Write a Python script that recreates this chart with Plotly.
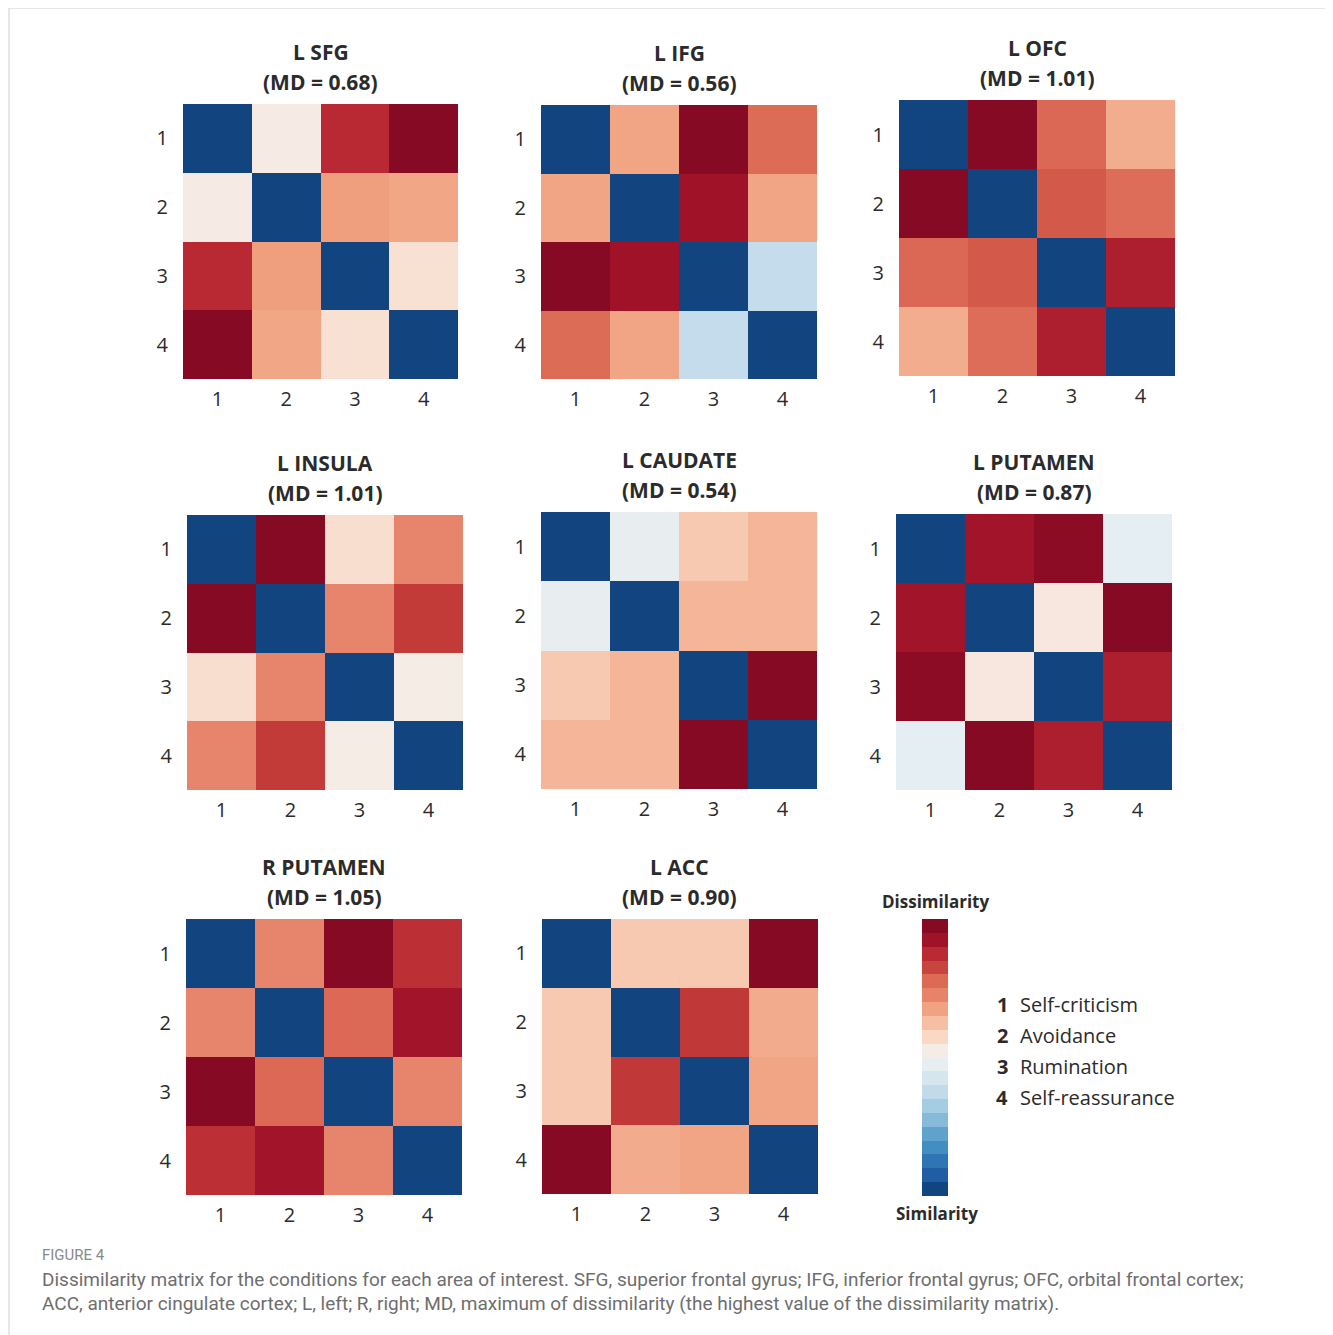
import plotly.graph_objects as go

# page offset of the plot inside the browser (default body margin)
OFF = 8
W, H = 1333 - OFF, 1335 - OFF

# ---------------- data ----------------
conditions = [1, 2, 3, 4]
condition_labels = ["1", "2", "3", "4"]
condition_names = ["Self-criticism", "Avoidance", "Rumination", "Self-reassurance"]

regions = ["L SFG", "L IFG", "L OFC", "L INSULA", "L CAUDATE", "L PUTAMEN", "R PUTAMEN", "L ACC"]
max_dissimilarity = [0.68, 0.56, 1.01, 1.01, 0.54, 0.87, 1.05, 0.90]

l_sfg = [[0.00, 0.36, 0.61, 0.68],
         [0.36, 0.00, 0.47, 0.46],
         [0.61, 0.47, 0.00, 0.38],
         [0.68, 0.46, 0.38, 0.00]]
l_ifg = [[0.00, 0.38, 0.56, 0.44],
         [0.38, 0.00, 0.53, 0.38],
         [0.56, 0.53, 0.00, 0.21],
         [0.44, 0.38, 0.21, 0.00]]
l_ofc = [[0.00, 1.01, 0.80, 0.67],
         [1.01, 0.00, 0.82, 0.79],
         [0.80, 0.82, 0.00, 0.93],
         [0.67, 0.79, 0.93, 0.00]]
l_insula = [[0.00, 1.01, 0.57, 0.74],
            [1.01, 0.00, 0.74, 0.87],
            [0.57, 0.74, 0.00, 0.53],
            [0.74, 0.87, 0.53, 0.00]]
l_caudate = [[0.00, 0.26, 0.33, 0.35],
             [0.26, 0.00, 0.35, 0.35],
             [0.33, 0.35, 0.00, 0.54],
             [0.35, 0.35, 0.54, 0.00]]
l_putamen = [[0.00, 0.82, 0.86, 0.41],
             [0.82, 0.00, 0.47, 0.87],
             [0.86, 0.47, 0.00, 0.80],
             [0.41, 0.87, 0.80, 0.00]]
r_putamen = [[0.00, 0.77, 1.05, 0.93],
             [0.77, 0.00, 0.83, 0.99],
             [1.05, 0.83, 0.00, 0.77],
             [0.93, 0.99, 0.77, 0.00]]
l_acc = [[0.00, 0.55, 0.55, 0.90],
         [0.55, 0.00, 0.78, 0.60],
         [0.55, 0.78, 0.00, 0.61],
         [0.90, 0.60, 0.61, 0.00]]

matrices = [l_sfg, l_ifg, l_ofc, l_insula, l_caudate, l_putamen, r_putamen, l_acc]

colorbar_levels = list(range(20))

# ---------------- style ----------------
palette = ["#124580", "#1f5ea4", "#3075b3", "#428ec0", "#5fa2cc", "#86bad8", "#a4cce3",
           "#c2dbea", "#d6e6ef", "#e6eef2", "#f6ece6", "#f9d9c6", "#f6bea2", "#f0a281",
           "#e6836a", "#dc6a55", "#c8453d", "#b92a33", "#a01228", "#870a24"]
colorscale = [[i / (len(palette) - 1), c] for i, c in enumerate(palette)]

# pixel boxes (x0, x1, y0, y1) of each matrix, in page pixels
boxes = [(183, 458, 104, 379), (541, 817, 105, 379), (899, 1175, 100, 376),
         (187, 463, 515, 790), (541, 817, 512, 789), (896, 1172, 514, 790),
         (186, 462, 919, 1195), (542, 818, 919, 1194)]
cbar_box = (922, 948, 919, 1196)

FONT = "Open Sans"
TXT = "#2b2b2b"


def px_x(x):
    return (x - OFF) / W


def px_y(y):
    return 1 - (y - OFF) / H


fig = go.Figure()
layout_axes = {}
annotations = []

for i, (name, md, mat, box) in enumerate(zip(regions, max_dissimilarity, matrices, boxes)):
    k = i + 1
    xa = "x" if k == 1 else f"x{k}"
    ya = "y" if k == 1 else f"y{k}"
    fig.add_trace(go.Heatmap(
        z=mat, x=conditions, y=conditions, xaxis=xa, yaxis=ya,
        zmin=0, zmax=md, colorscale=colorscale, showscale=False,
        hovertemplate="%{y} vs %{x}: %{z}<extra>" + name + "</extra>"))
    x0, x1, y0, y1 = box
    axis_font = dict(family=FONT, size=20, color=TXT)
    layout_axes["xaxis" if k == 1 else f"xaxis{k}"] = dict(
        domain=[px_x(x0), px_x(x1)], range=[0.5, 4.5], tickvals=conditions,
        ticktext=condition_labels, showgrid=False, zeroline=False, showline=False,
        ticks="", tickfont=axis_font, ticklabelstandoff=6, anchor=ya, fixedrange=True)
    layout_axes["yaxis" if k == 1 else f"yaxis{k}"] = dict(
        domain=[px_y(y1), px_y(y0)], range=[4.5, 0.5], tickvals=conditions,
        ticktext=condition_labels, showgrid=False, zeroline=False, showline=False,
        ticks="", tickfont=axis_font, ticklabelstandoff=14, anchor=xa, fixedrange=True)
    cx = (x0 + x1) / 2
    annotations.append(dict(x=px_x(cx), y=px_y(y0 - 52), xref="paper", yref="paper",
                            text=f"<b>{name}</b>", showarrow=False, xanchor="center", yanchor="middle",
                            font=dict(family=FONT, size=21, color=TXT)))
    annotations.append(dict(x=px_x(cx), y=px_y(y0 - 22), xref="paper", yref="paper",
                            text=f"<b>(MD = {md:.2f})</b>", showarrow=False, xanchor="center",
                            yanchor="middle", font=dict(family=FONT, size=21, color=TXT)))

# colour legend (discrete bar)
k = len(regions) + 1
fig.add_trace(go.Heatmap(
    z=[[v] for v in colorbar_levels], x=[0], y=colorbar_levels,
    xaxis=f"x{k}", yaxis=f"y{k}", zmin=min(colorbar_levels), zmax=max(colorbar_levels),
    colorscale=colorscale, showscale=False, hoverinfo="skip"))
x0, x1, y0, y1 = cbar_box
layout_axes[f"xaxis{k}"] = dict(domain=[px_x(x0), px_x(x1)], range=[-0.5, 0.5], visible=False,
                                anchor=f"y{k}", fixedrange=True)
layout_axes[f"yaxis{k}"] = dict(domain=[px_y(y1), px_y(y0)], range=[-0.5, 19.5], visible=False,
                                anchor=f"x{k}", fixedrange=True)
annotations.append(dict(x=px_x(935), y=px_y(901), xref="paper", yref="paper", text="<b>Dissimilarity</b>",
                        showarrow=False, xanchor="center", yanchor="middle",
                        font=dict(family=FONT, size=17, color=TXT)))
annotations.append(dict(x=px_x(937), y=px_y(1213), xref="paper", yref="paper", text="<b>Similarity</b>",
                        showarrow=False, xanchor="center", yanchor="middle",
                        font=dict(family=FONT, size=17, color=TXT)))

# condition key
for j, (lab, nm) in enumerate(zip(condition_labels, condition_names)):
    yy = 1004 + 31 * j
    annotations.append(dict(x=px_x(1002), y=px_y(yy), xref="paper", yref="paper", text=f"<b>{lab}</b>",
                            showarrow=False, xanchor="center", yanchor="middle",
                            font=dict(family=FONT, size=20, color=TXT)))
    annotations.append(dict(x=px_x(1018), y=px_y(yy), xref="paper", yref="paper", text=nm,
                            showarrow=False, xanchor="left", yanchor="middle",
                            font=dict(family=FONT, size=20, color=TXT)))

# caption
CAP = "Roboto"
annotations.append(dict(x=px_x(40), y=px_y(1255), xref="paper", yref="paper", text="FIGURE 4",
                        showarrow=False, xanchor="left", yanchor="middle",
                        font=dict(family=CAP, size=15, color="#8a8a8a")))
annotations.append(dict(x=px_x(40), y=px_y(1279), xref="paper", yref="paper",
                        text="Dissimilarity matrix for the conditions for each area of interest. SFG, superior frontal gyrus; "
                             "IFG, inferior frontal gyrus; OFC, orbital frontal cortex;",
                        showarrow=False, xanchor="left", yanchor="middle",
                        font=dict(family=CAP, size=19, color="#6e6e6e")))
annotations.append(dict(x=px_x(40), y=px_y(1303), xref="paper", yref="paper",
                        text="ACC, anterior cingulate cortex; L, left; R, right; MD, maximum of dissimilarity "
                             "(the highest value of the dissimilarity matrix).",
                        showarrow=False, xanchor="left", yanchor="middle",
                        font=dict(family=CAP, size=19, color="#6e6e6e")))

fig.update_layout(
    width=W, height=H, margin=dict(l=0, r=0, t=0, b=0),
    paper_bgcolor="white", plot_bgcolor="white", showlegend=False,
    annotations=annotations,
    shapes=[dict(type="rect", xref="paper", yref="paper", x0=px_x(9), x1=px_x(1331),
                 y0=px_y(1345), y1=px_y(8), line=dict(color="#cfcfcf", width=1))],
    **layout_axes)

fig.write_html("out.html")
